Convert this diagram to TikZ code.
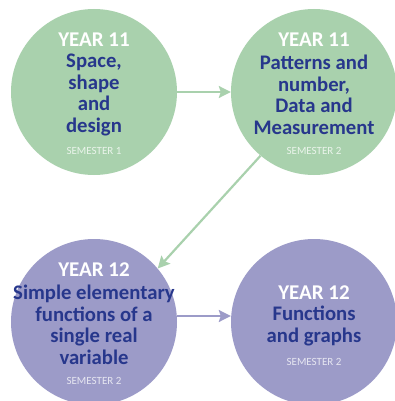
\documentclass[tikz,border=0pt]{standalone}
\usepackage{fontspec}
\setmainfont{Carlito}
\usetikzlibrary{arrows.meta}
\definecolor{grn}{HTML}{A9D1AD}
\definecolor{prp}{HTML}{9C9BC8}
\definecolor{ink}{HTML}{27378C}
\tikzset{
  x=1pt, y=-1pt,
  disc/.style={circle, minimum size=166pt, inner sep=0pt},
  yeartxt/.style={text=white, font=\bfseries\fontsize{21}{22}\selectfont},
  bodytxt/.style={text=ink, align=center, font=\bfseries\fontsize{20.7}{21.5}\selectfont},
  semtxt/.style={font=\fontsize{11}{12}\selectfont},
  conn/.style={line width=2.2pt, -{Stealth[length=12pt,width=12pt,inset=2pt]}},
}
\begin{document}
\begin{tikzpicture}
\useasboundingbox (0,0) rectangle (395,401);
\node[disc, fill=grn] (c1) at (94,92) {};
\node[disc, fill=grn] (c2) at (314,92) {};
\node[disc, fill=prp] (c3) at (94,322) {};
\node[disc, fill=prp] (c4) at (314,322) {};

\node[yeartxt] (y1) at (94,40) {YEAR 11};
\node[bodytxt] (b1) at (94,95) {Space,\\shape\\and\\design};
\node[semtxt, text=white!75!grn] (s1) at (94,151) {SEMESTER 1};

\node[yeartxt] (y2) at (314,40) {YEAR 11};
\node[bodytxt] (b2) at (314,95) {Patterns and\\number,\\Data and\\Measurement};
\node[semtxt, text=white!75!grn] (s2) at (314,151) {SEMESTER 2};

\node[yeartxt] (y3) at (94,270) {YEAR 12};
\node[bodytxt] (b3) at (94,325) {Simple elementary\\functions of a\\single real\\variable};
\node[semtxt, text=white!75!prp] (s3) at (94,381) {SEMESTER 2};

\node[yeartxt] (y4) at (314,293) {YEAR 12};
\node[bodytxt] (b4) at (314,326) {Functions\\and graphs};
\node[semtxt, text=white!75!prp] (s4) at (314,362) {SEMESTER 2};

\draw[conn, grn] (c1.east) -- (c2.west);
\draw[conn, grn] (c2.-130) -- (c3.40);
\draw[conn, prp] ([yshift=6pt]c3.east) -- ([yshift=6pt]c4.west);
\end{tikzpicture}
\end{document}
